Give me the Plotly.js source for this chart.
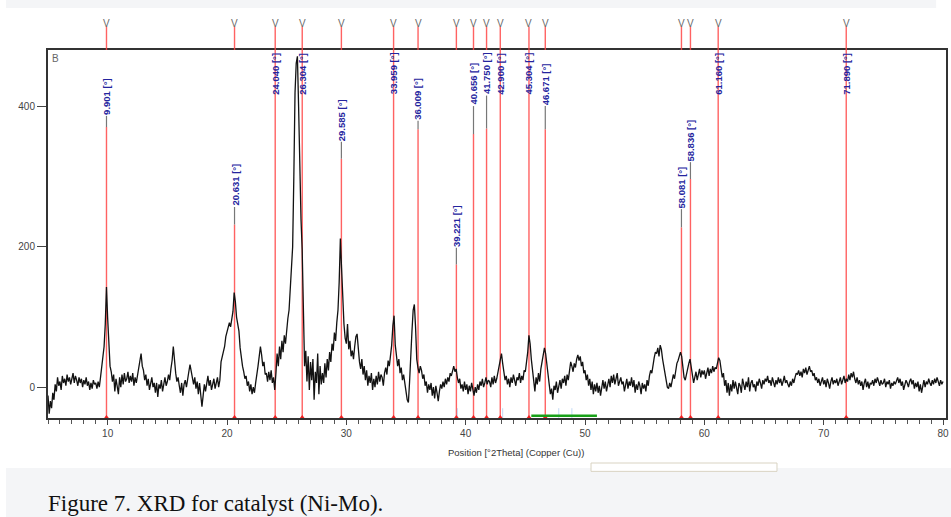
<!DOCTYPE html>
<html>
<head>
<meta charset="utf-8">
<script src="https://cdn.plot.ly/plotly-3.0.1.min.js"></script>
<style>
  html, body { margin: 0; padding: 0; background: #ffffff; }
  #chart { width: 951px; height: 517px; }
</style>
</head>
<body>
<div id="chart"></div>
<script>
// ---- Scan definition (°2Theta) ----
const scanStart = 5.0;
const scanStep = 0.1;

const counts_05_20 = [
  -12,-38,-20,-30,-8,-18,4,-6,14,2,
  8,-4,16,6,12,2,18,8,14,4,
  12,20,6,16,10,2,14,6,12,0,
  10,4,14,2,8,-4,6,-2,10,4,
  6,-2,8,0,14,32,40,58,90,143,
  98,70,30,22,8,18,-6,12,2,-10,
  14,0,18,4,20,8,12,22,6,16,
  8,20,2,14,6,18,28,36,48,30,
  24,10,18,2,12,-4,8,14,0,6,
  -8,6,-14,4,-2,10,-6,8,14,2,
  8,18,10,26,38,58,34,20,8,14,
  2,-8,6,-12,4,10,0,14,22,32,
  24,12,4,14,-2,8,-10,6,-14,-28,
  -12,4,-6,8,16,2,10,-4,6,12,
  -2,8,14,0,10,36,44,50,58,72
];
const counts_20_35 = [
  80,88,92,86,100,108,135,122,100,88,
  80,56,40,30,22,12,16,2,8,-6,
  4,-10,0,-8,6,16,30,44,58,46,
  30,36,18,20,8,22,10,24,6,14,
  -4,20,48,30,58,40,66,50,74,62,
  86,98,110,135,165,200,300,420,462,472,
  400,290,240,196,82,30,52,8,44,-4,
  36,10,40,-18,22,6,48,-10,30,4,
  20,6,34,14,40,24,50,36,62,52,
  78,66,92,110,150,212,170,120,90,70,
  62,90,54,66,44,52,40,58,72,76,
  50,36,26,40,18,30,10,24,2,16,
  6,20,-4,12,0,16,4,22,8,18,
  14,2,20,28,18,38,30,46,60,88,
  102,60,48,30,40,20,28,10,18,2
];
const counts_35_50 = [
  -6,-18,-22,8,55,80,110,118,86,40,
  28,20,30,24,12,18,2,8,-8,4,
  -4,6,-12,0,-16,2,-8,-20,-6,4,
  -2,8,0,12,4,14,8,20,16,24,
  30,22,26,14,6,12,-2,4,-6,8,
  -4,4,-10,2,-6,6,-2,-12,0,-8,
  4,-4,8,2,12,0,6,14,4,10,
  8,0,14,4,16,6,12,20,30,40,
  48,34,20,10,16,4,12,0,14,6,
  18,8,2,14,10,20,6,16,10,24,
  22,36,50,74,62,40,22,8,-6,14,
  4,20,8,26,36,46,56,48,30,14,
  4,-10,-2,-18,2,-4,8,-8,4,10,
  -2,12,6,16,2,18,10,26,36,30,
  22,34,28,40,46,38,44,30,36,20
];
const counts_50_65 = [
  24,10,18,2,12,-4,8,-10,4,-6,
  6,-8,2,-12,4,10,-2,8,-6,6,
  12,0,16,6,18,4,12,20,2,10,
  14,4,8,-6,6,12,-2,8,2,14,
  0,10,-8,4,-4,8,2,-10,6,-2,
  4,-6,10,2,16,24,20,34,42,50,
  48,56,44,60,54,40,30,22,10,0,
  -2,6,0,10,18,12,26,34,38,46,
  50,44,26,14,10,20,28,34,40,28,
  16,6,14,22,10,20,26,14,24,18,
  24,12,20,28,16,26,20,30,22,28,
  26,34,42,38,28,14,20,2,10,-8,
  6,-12,4,-6,10,-2,8,0,-10,6,
  2,-8,12,4,-4,8,0,14,-6,6,
  10,0,4,-6,8,2,12,6,-2,10
];
const counts_65_80 = [
  4,12,8,16,6,10,2,14,8,0,
  10,4,14,6,12,2,8,16,6,10,
  4,0,8,2,12,6,14,20,18,24,
  16,22,14,26,20,28,18,26,30,22,
  24,16,20,10,14,6,12,2,8,14,
  4,10,0,12,6,-2,8,14,4,10,
  6,12,2,8,14,4,10,16,6,12,
  8,18,10,20,14,22,12,6,14,4,
  10,2,8,-4,6,12,0,8,-2,6,
  4,10,2,12,6,14,8,2,10,4,
  6,12,0,8,4,10,-2,6,2,8,
  4,10,14,6,12,2,8,-4,4,10,
  6,0,8,12,4,10,-2,6,0,8,
  -6,4,-8,2,10,0,8,4,12,6,
  2,10,4,12,6,14,8,2,10,4,
  8
];

// ---- Peak list ----
const peakPos = [9.901, 20.631, 24.040, 26.304, 29.585, 33.959, 36.009, 39.221, 40.656,
                 41.750, 42.900, 45.304, 46.671, 58.081, 58.836, 61.160, 71.890];
// label base height (counts) where each peak label starts
const peakLabelY = [387, 257, 416, 416, 350, 416, 380, 199, 401, 416, 416, 416, 401, 254, 321, 416, 416];
// gray leader length under each label (counts)
const peakLeader = [16, 25, 0, 0, 24, 0, 12, 24, 40, 47, 0, 0, 33, 26, 24, 0, 0];

// faint reference sticks near the baseline
const refPos = [39.3, 43.1, 47.8, 48.9];

// ---- Axes ----
const xRange = [5, 80.25];
const yRange = [-44, 481];
const xTickVals = [10, 20, 30, 40, 50, 60, 70, 80];
const yTickVals = [0, 200, 400];

const counts = [].concat(counts_05_20, counts_20_35, counts_35_50, counts_50_65, counts_65_80);
const theta = counts.map((_, i) => +(scanStart + i * scanStep).toFixed(2));

const traces = [
  {
    x: theta, y: counts, type: 'scatter', mode: 'lines',
    line: { color: '#121212', width: 1.3 }, hoverinfo: 'skip', showlegend: false
  },
  {
    x: peakPos, y: peakPos.map(() => yRange[0]), type: 'scatter', mode: 'markers',
    marker: { symbol: 'triangle-up', size: 6, color: '#ee2020' },
    cliponaxis: false, hoverinfo: 'skip', showlegend: false
  }
];

const shapes = [];
const annotations = [];

// background bands of the page
shapes.push({ type: 'rect', xref: 'paper', yref: 'paper', x0: -0.0468, x1: 0.989, y0: 1.114, y1: 1.14,
  fillcolor: '#f4f5f7', line: { width: 0 }, layer: 'below' });
shapes.push({ type: 'rect', xref: 'paper', yref: 'paper', x0: -0.0468, x1: 1.01, y0: -0.28, y1: -0.1359,
  fillcolor: '#f4f5f7', line: { width: 0 }, layer: 'below' });
shapes.push({ type: 'rect', xref: 'paper', yref: 'paper', x0: 0.6047, x1: 0.8118, y0: -0.145, y1: -0.1223,
  fillcolor: '#ffffff', line: { color: '#d9d3c2', width: 1 }, layer: 'below' });

peakPos.forEach((p, i) => {
  const clamped = peakLabelY[i] >= 416;
  const redTop = clamped && peakLeader[i] === 0 ? yRange[1] : peakLabelY[i] - peakLeader[i];
  // red line inside plot
  shapes.push({ type: 'line', xref: 'x', yref: 'y', x0: p, x1: p, y0: yRange[0], y1: redTop,
    line: { color: 'rgba(255,70,70,0.85)', width: 1.4 }, layer: 'below' });
  // red line above plot
  shapes.push({ type: 'line', xref: 'x', yref: 'paper', x0: p, x1: p, y0: 1.0, y1: 1.064,
    line: { color: 'rgba(255,70,70,0.85)', width: 1.4 } });
  // gray leader
  if (peakLeader[i] > 0) {
    shapes.push({ type: 'line', xref: 'x', yref: 'y', x0: p, x1: p, y0: peakLabelY[i] - peakLeader[i], y1: peakLabelY[i],
      line: { color: '#777777', width: 1.2 } });
  }
  // V marker
  annotations.push({ x: p, y: 1.072, xref: 'x', yref: 'paper', text: 'V', showarrow: false,
    font: { family: 'Liberation Sans, Arial, sans-serif', size: 10, color: '#6a6a6a' },
    xanchor: 'center', yanchor: 'middle' });
  // vertical peak label
  annotations.push({ x: p, y: peakLabelY[i], xref: 'x', yref: 'y', text: '<b>' + p.toFixed(3) + ' [°]</b>',
    showarrow: false, textangle: -90, xanchor: 'center', yanchor: 'bottom',
    font: { family: 'Liberation Sans, Arial, sans-serif', size: 9.5, color: '#24249e' },
    borderpad: 0 });
});

refPos.forEach(p => {
  shapes.push({ type: 'line', xref: 'x', yref: 'y', x0: p, x1: p, y0: yRange[0], y1: yRange[0] + 14,
    line: { color: 'rgba(120,170,230,0.45)', width: 1 }, layer: 'below' });
});

// green range bar on the axis
shapes.push({ type: 'line', xref: 'x', yref: 'paper', x0: 45.5, x1: 51.0, y0: 0.006, y1: 0.006,
  line: { color: '#18a018', width: 2.5 } });

// "B" corner tag
annotations.push({ x: 0.002, y: 0.997, xref: 'paper', yref: 'paper', text: 'B', showarrow: false,
  xanchor: 'left', yanchor: 'top', font: { family: 'Liberation Sans, Arial, sans-serif', size: 10, color: '#666' } });

// x axis title
annotations.push({ x: 0.521, y: -0.095, xref: 'paper', yref: 'paper', text: 'Position [°2Theta] (Copper (Cu))',
  showarrow: false, xanchor: 'center', yanchor: 'middle',
  font: { family: 'Liberation Sans, Arial, sans-serif', size: 9.5, color: '#333' } });

// caption
annotations.push({ x: -0.002, y: -0.232, xref: 'paper', yref: 'paper', text: 'Figure 7. XRD for catalyst (Ni-Mo).',
  showarrow: false, xanchor: 'left', yanchor: 'middle',
  font: { family: 'Liberation Serif, Times New Roman, serif', size: 23, color: '#111' } });

const layout = {
  width: 951, height: 517,
  margin: { l: 48, r: 5, t: 50, b: 99 },
  paper_bgcolor: '#ffffff', plot_bgcolor: '#ffffff',
  showlegend: false,
  xaxis: {
    range: xRange, showgrid: false, zeroline: false,
    showline: true, mirror: true, linecolor: '#333', linewidth: 2,
    tickvals: xTickVals, ticktext: xTickVals.map(String),
    ticks: 'outside', ticklen: 5, tickcolor: '#444', tickwidth: 1,
    minor: { dtick: 1, tick0: 0, ticks: 'outside', ticklen: 4, tickcolor: '#555' },
    tickfont: { family: 'Liberation Sans, Arial, sans-serif', size: 10, color: '#444' }
  },
  yaxis: {
    range: yRange, showgrid: false, zeroline: false,
    showline: true, mirror: true, linecolor: '#333', linewidth: 2,
    tickvals: yTickVals, ticktext: yTickVals.map(String),
    ticks: 'outside', ticklen: 9, tickcolor: '#444', tickwidth: 1,
    tickfont: { family: 'Liberation Sans, Arial, sans-serif', size: 10, color: '#444' }
  },
  shapes: shapes,
  annotations: annotations
};

Plotly.newPlot('chart', traces, layout, { displayModeBar: false, staticPlot: true });
</script>
</body>
</html>
